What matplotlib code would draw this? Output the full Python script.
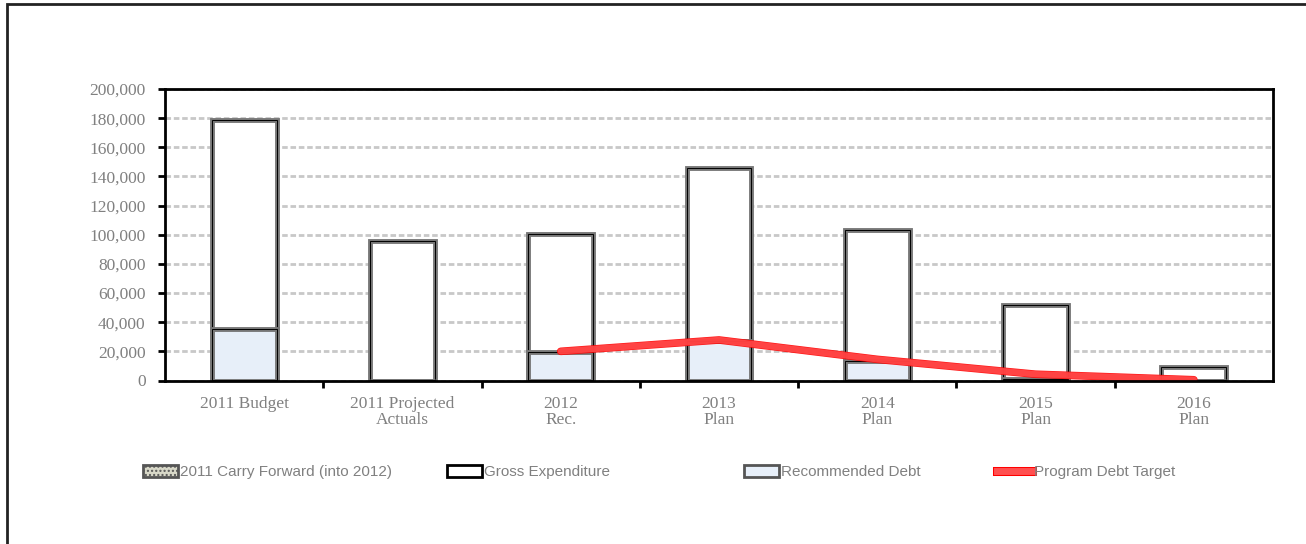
import numpy as np
import matplotlib
matplotlib.use('Agg')
import matplotlib.pyplot as plt
from matplotlib.patches import Rectangle, Patch
from matplotlib.lines import Line2D
import matplotlib.patheffects as pe
from matplotlib.ticker import FuncFormatter

categories = ['2011 Budget', '2011 Projected\nActuals', '2012\nRec.', '2013\nPlan',
              '2014\nPlan', '2015\nPlan', '2016\nPlan']
carry_forward = [0, 0, 0, 0, 0, 0, 0]
gross_expenditure = [179000, 95500, 100500, 146000, 103000, 51500, 9000]
recommended_debt = [35500, 0, 19500, 27000, 13500, 1000, 0]
program_debt_target = [np.nan, np.nan, 20000, 27800, 14500, 4300, 500]

plt.rcParams['font.family'] = ['Liberation Serif', 'DejaVu Serif']

fig = plt.figure(figsize=(13.06, 5.44), dpi=100)
ax = fig.add_axes([165 / 1306, 1 - 380.5 / 544, (1273 - 165) / 1306, (380.5 - 89) / 544])

x = np.arange(len(categories))
w = 0.41
grey = '#777777'

# gross expenditure (white boxes), then debt on top of it from zero
ax.bar(x, gross_expenditure, w, color='white', edgecolor=grey, linewidth=3.5, zorder=3)
ax.bar(x, gross_expenditure, w, fill=False, edgecolor='black', linewidth=0.7, zorder=3)
ax.bar(x, recommended_debt, w, color='#e7eff9', edgecolor=grey, linewidth=3.5, zorder=4)
ax.bar(x, recommended_debt, w, fill=False, edgecolor='black', linewidth=0.7, zorder=4)
ax.bar(x, carry_forward, w, color='#d8d8c8', edgecolor='black', linewidth=2, zorder=4)

ax.plot(x, program_debt_target, color='#ff5050', linewidth=4.5, alpha=0.8,
        solid_capstyle='round', zorder=6,
        path_effects=[pe.Stroke(linewidth=5.5, foreground='#ff0000', alpha=0.9), pe.Normal()])

ax.set_xlim(-0.5, len(categories) - 0.5)
ax.set_ylim(0, 200000)
ax.set_yticks(np.arange(0, 200001, 20000))
ax.yaxis.set_major_formatter(FuncFormatter(lambda v, p: f'{int(v):,}'))
ax.set_xticks(x)
ax.set_xticklabels(categories, linespacing=1.0)
ax.set_xticks(np.arange(0.5, len(categories) - 1, 1), minor=True)
ax.tick_params(axis='x', which='major', length=0, pad=11, labelsize=12.5, labelcolor='#808080')
ax.tick_params(axis='x', which='minor', length=5, width=2, direction='out', color='black')
ax.tick_params(axis='y', length=5, width=2, direction='out', pad=9, labelsize=12.5,
               labelcolor='#808080')

ax.grid(axis='y', color='#c8c8c8', linewidth=2, linestyle=(0, (2, 1)), zorder=0)
ax.set_axisbelow(True)
for s in ax.spines.values():
    s.set_linewidth(2)
    s.set_color('black')
    s.set_zorder(7)

# legend entries, placed one by one like the spreadsheet layout
leg_font = {'family': ['Liberation Sans', 'DejaVu Sans'], 'size': 11}
handles = [
    Patch(facecolor='#d8d8c8', edgecolor='#555555', linewidth=2, hatch='....'),
    Patch(facecolor='white', edgecolor='black', linewidth=2),
    Patch(facecolor='#e7eff9', edgecolor='#555555', linewidth=2),
    Line2D([0], [0], color='#ff5050', linewidth=5,
           path_effects=[pe.Stroke(linewidth=6.5, foreground='#ff0000'), pe.Normal()]),
]
labels = ['2011 Carry Forward (into 2012)', 'Gross Expenditure', 'Recommended Debt',
          'Program Debt Target']
lefts = [143, 447, 744, 997]
for h, lab, lx in zip(handles, labels, lefts):
    leg = fig.legend([h], [lab], loc='center left', bbox_to_anchor=(lx / 1306, 1 - 472 / 544),
                     frameon=False, prop=leg_font, handlelength=2.3, handleheight=0.8,
                     handletextpad=0.1, borderpad=0, borderaxespad=0)
    for t in leg.get_texts():
        t.set_color('#808080')

fig.patches.append(Rectangle((7 / 1306, -0.1), 1.2, 1.1 - 4 / 544,
                             transform=fig.transFigure, fill=False,
                             edgecolor='#222222', linewidth=2))

fig.savefig('out.png', dpi=100)
